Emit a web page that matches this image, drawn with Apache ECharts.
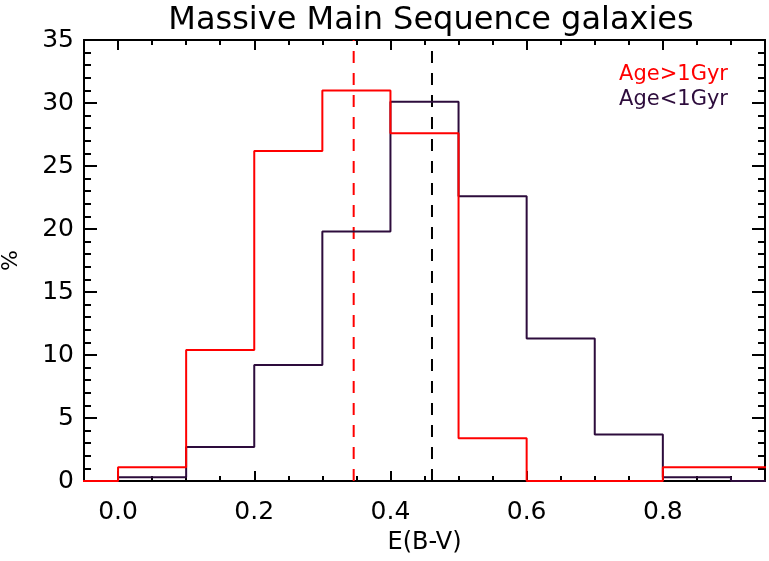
<!DOCTYPE html>
<html><head><meta charset="utf-8">
<script src="https://cdn.jsdelivr.net/npm/echarts@6/dist/echarts.min.js"></script>
<style>html,body{margin:0;padding:0;background:#fff}#c{width:769px;height:561px}</style>
</head><body><div id="c"></div>
<script>
const titleText = 'Massive Main Sequence galaxies';
const xName = 'E(B-V)';
const yName = '%';
const binEdges = [-0.1, 0.0, 0.1, 0.2, 0.3, 0.4, 0.5, 0.6, 0.7, 0.8, 0.9, 1.0];
const oldName = 'Age>1Gyr';
const youngName = 'Age<1Gyr';
const oldValues = [0, 1.1, 10.4, 26.2, 31.0, 27.6, 3.4, 0, 0, 1.1, 1.1];
const youngValues = [0, 0.3, 2.7, 9.2, 19.8, 30.1, 22.6, 11.3, 3.7, 0.3, 0];
const oldMean = 0.346;
const youngMean = 0.461;
const xMajorTicks = [0.0, 0.2, 0.4, 0.6, 0.8];
const xRange = [-0.05, 0.95];
const yRange = [0, 35];

const oldColor = '#ff0000';
const youngColor = '#2d0c3c';
const font = 'DejaVu Sans';

function steps(vals) {
  const pts = vals.map((v, i) => [binEdges[i], v]);
  pts.push([binEdges[vals.length], vals[vals.length - 1]]);
  return pts;
}

function xAxisDef(pos, major) {
  return {
    type: 'value', position: pos, min: xRange[0], max: xRange[1],
    interval: major ? undefined : 0.05,
    axisLine: { show: true, onZero: false, lineStyle: { color: '#000', width: 2 } },
    axisTick: major
      ? { show: true, inside: true, length: 10, customValues: xMajorTicks, lineStyle: { color: '#000', width: 2 } }
      : { show: true, inside: true, length: 5, lineStyle: { color: '#000', width: 2 } },
    axisLabel: (major && pos === 'bottom')
      ? { show: true, customValues: xMajorTicks, formatter: v => v.toFixed(1), fontSize: 25, margin: 19, color: '#000', fontFamily: font }
      : { show: false },
    splitLine: { show: false },
    name: (major && pos === 'bottom') ? xName : '',
    nameLocation: 'middle', nameGap: 50,
    nameTextStyle: { fontSize: 24, color: '#000', fontFamily: font }
  };
}
function yAxisDef(pos) {
  return {
    type: 'value', position: pos, min: yRange[0], max: yRange[1], interval: 5,
    axisLine: { show: true, onZero: false, lineStyle: { color: '#000', width: 2 } },
    axisTick: { show: true, inside: true, length: 13, lineStyle: { color: '#000', width: 2 } },
    minorTick: { show: true, splitNumber: 5, length: 7, lineStyle: { color: '#000', width: 2 } },
    axisLabel: pos === 'left' ? { show: true, fontSize: 25, margin: 10, color: '#000', fontFamily: font } : { show: false },
    splitLine: { show: false },
    name: pos === 'left' ? yName : '',
    nameLocation: 'middle', nameGap: 62, nameRotate: 90,
    nameTextStyle: { fontSize: 22, color: '#000', fontFamily: font }
  };
}

const chart = echarts.init(document.getElementById('c'), null, { renderer: 'canvas' });
chart.setOption({
  animation: false,
  backgroundColor: '#fff',
  title: {
    text: titleText, left: 426, top: 0, textAlign: 'center',
    textStyle: { fontSize: 32, fontWeight: 'normal', color: '#000', fontFamily: font }
  },
  legend: {
    orient: 'vertical', right: 36, top: 59, itemWidth: 0, itemHeight: 0, itemGap: 4,
    selectedMode: false,
    data: [
      { name: oldName, icon: 'none', textStyle: { color: oldColor } },
      { name: youngName, icon: 'none', textStyle: { color: youngColor } }
    ],
    textStyle: { fontSize: 21, fontFamily: font }
  },
  grid: { left: 84, right: 4, top: 40, bottom: 80, containLabel: false, outerBoundsMode: 'none' },
  xAxis: [xAxisDef('bottom', true), xAxisDef('bottom', false), xAxisDef('top', true), xAxisDef('top', false)],
  yAxis: [yAxisDef('left'), yAxisDef('right')],
  series: [
    { name: youngName, type: 'line', step: 'end', data: steps(youngValues), symbol: 'none', clip: true,
      lineStyle: { color: youngColor, width: 2 }, itemStyle: { color: youngColor }, z: 3 },
    { name: oldName, type: 'line', step: 'end', data: steps(oldValues), symbol: 'none', clip: true,
      lineStyle: { color: oldColor, width: 2 }, itemStyle: { color: oldColor }, z: 4 },
    { name: 'oldMean', type: 'line', data: [[oldMean, yRange[0]], [oldMean, yRange[1]]], symbol: 'none',
      lineStyle: { color: oldColor, width: 2, type: [12, 10] }, z: 2 },
    { name: 'youngMean', type: 'line', data: [[youngMean, yRange[0]], [youngMean, yRange[1]]], symbol: 'none',
      lineStyle: { color: '#000', width: 2, type: [12, 10] }, z: 2 }
  ]
});
</script></body></html>
